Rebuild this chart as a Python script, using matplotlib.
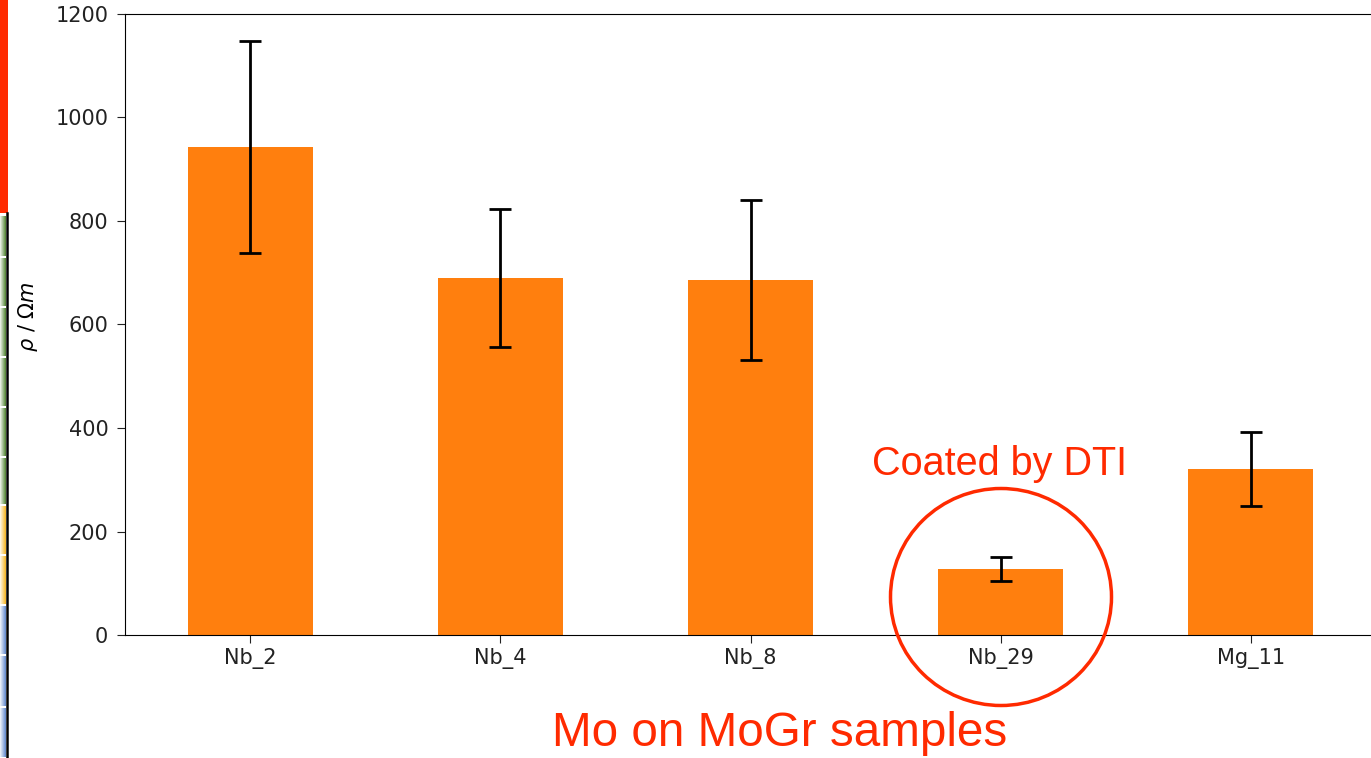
import numpy as np
import matplotlib.pyplot as plt
from matplotlib.patches import Ellipse, Rectangle, FancyBboxPatch
from matplotlib.lines import Line2D

samples = ["Nb_2", "Nb_4", "Nb_8", "Nb_29", "Mg_11"]
rho = [943, 690, 686, 127, 321]
rho_err = [205, 133, 155, 23, 72]
yticks = [0, 200, 400, 600, 800, 1000, 1200]

W, H = 1371, 758
fig = plt.figure(figsize=(W / 100, H / 100), dpi=100)
ax = fig.add_axes([125 / W, 1 - 635 / H, 1251 / W, 621 / H])

x = np.arange(len(samples))
ax.bar(x, rho, width=0.5, color="#ff7f0e", yerr=rho_err,
       error_kw=dict(ecolor="black", elinewidth=2, capsize=8, capthick=2))
ax.set_xlim(-0.5, len(samples) - 0.5)
ax.set_ylim(0, 1200)
ax.set_xticks(x)
ax.set_xticklabels(samples)
ax.set_yticks(yticks)
ax.tick_params(labelsize=15, length=6, colors="#222222")
ax.tick_params(axis="y", pad=6)
ax.set_ylabel(r"$\rho\ /\ \Omega m$", fontsize=15)
ax.yaxis.set_label_coords(-0.068, 0.512)

# annotations in red
red = "#ff2a00"
fig.text(1000 / W, 1 - 464 / H, "Coated by DTI", color=red,
         fontsize=28.5, family="Liberation Sans", ha="center", va="center")
fig.text(780 / W, 1 - 734 / H, "Mo on MoGr samples", color=red,
         fontsize=34.3, family="Liberation Sans", ha="center", va="center")
fig.add_artist(Ellipse((1001 / W, 1 - 597 / H), 221 / W, 217 / H,
                       transform=fig.transFigure, fill=False, ec=red, lw=2.5))

# slide decoration at the left edge
fig.add_artist(Rectangle((0, 1 - 213 / H), 8 / W, 213 / H,
                         transform=fig.transFigure, color=red, lw=0))
edges = [215, 257, 307, 357, 407, 457, 505, 555, 605, 655, 707, 758]
cols = ["#5a8a3c"] * 6 + ["#f5b82e"] * 2 + ["#6a8fcf"] * 3
for top, bot, c in zip(edges[:-1], edges[1:], cols):
    for k in range(6):
        fig.add_artist(Rectangle((k / W, 1 - (bot - 1) / H), 1 / W, (bot - top - 2) / H,
                                 transform=fig.transFigure, color=c,
                                 alpha=0.15 + 0.17 * k, lw=0))
fig.add_artist(Line2D([7 / W, 7 / W], [0, 1 - 213 / H],
                      transform=fig.transFigure, color="black", lw=1.8))

fig.savefig("out.png", dpi=100)
